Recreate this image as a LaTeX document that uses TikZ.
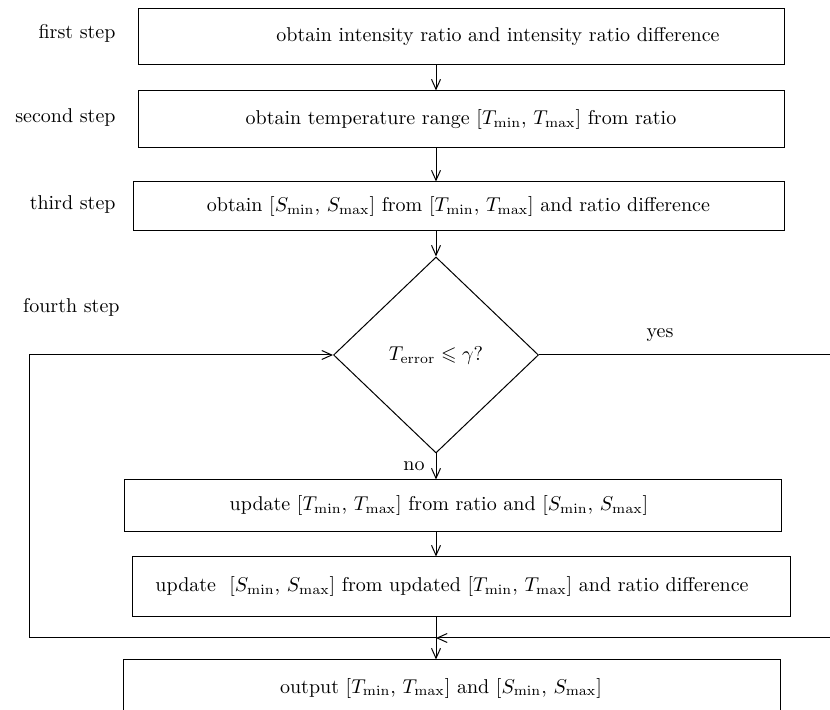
\documentclass[tikz,border=0pt]{standalone}
\usepackage{amssymb}
\usetikzlibrary{shapes.geometric,arrows.meta}
\begin{document}
\begin{tikzpicture}[>={Straight Barb[length=5pt,width=4.5pt]}, x=0.5pt, y=-0.5pt, line width=0.5pt]
\tikzstyle{stepbox}=[draw,rectangle,inner sep=0pt]
\tikzstyle{steplabel}=[anchor=east,inner sep=0pt]
\path[use as bounding box,clip] (0,0) rectangle (830,710);
\node[steplabel](s1) at (116,33) {first step};
\node[steplabel](s2) at (116,118) {second step};
\node[steplabel](s3) at (116,205) {third step};
\node[steplabel](s4) at (120,307) {fourth step};
\node[stepbox,minimum width=323pt,minimum height=28pt](b1) at (461,37) {\hspace*{37pt}\raisebox{-2.5pt}{obtain intensity ratio and intensity ratio difference}};
\node[stepbox,minimum width=323pt,minimum height=28.5pt](b2) at (461,119.5) {obtain temperature range [$T_{\mathrm{min}}$, $T_{\mathrm{max}}$] from ratio};
\node[stepbox,minimum width=325.5pt,minimum height=24.5pt](b3) at (458.5,206.5) {obtain [$S_{\mathrm{min}}$, $S_{\mathrm{max}}$] from [$T_{\mathrm{min}}$, $T_{\mathrm{max}}$] and ratio difference};
\node[diamond,draw,inner sep=0pt,minimum width=102.5pt,minimum height=98pt](d) at (436,355) {$T_{\mathrm{error}}\leqslant\gamma$?};
\node[stepbox,minimum width=328.5pt,minimum height=26pt](b4) at (452.5,506) {update [$T_{\mathrm{min}}$, $T_{\mathrm{max}}$] from ratio and [$S_{\mathrm{min}}$, $S_{\mathrm{max}}$]\hspace*{13.5pt}};
\node[stepbox,minimum width=329pt,minimum height=30pt](b5) at (461,587) {update\ \ [$S_{\mathrm{min}}$, $S_{\mathrm{max}}$] from updated [$T_{\mathrm{min}}$, $T_{\mathrm{max}}$] and ratio difference\hspace*{9pt}};
\node[stepbox,minimum width=328.5pt,minimum height=28pt](b6) at (451.5,688) {output [$T_{\mathrm{min}}$, $T_{\mathrm{max}}$] and [$S_{\mathrm{min}}$, $S_{\mathrm{max}}$]\hspace*{10.5pt}};
\node[inner sep=0pt](yes) at (660,335) {yes};
\node[inner sep=0pt](no) at (414,466) {no};
\coordinate (j) at (436,638);
\coordinate (cl) at (29,638);
\coordinate (cr) at (845,638);
\draw[->] (b1.south -| d) -- (b2.north -| d);
\draw[->] (b2.south -| d) -- (b3.north -| d);
\draw[->] (b3.south -| d) -- (d.north);
\draw[->] (d.south) -- (b4.north -| d);
\draw[->] (b4.south -| d) -- (b5.north -| d);
\draw[->] (b5.south -| j) -- (b6.north -| j);
\draw[->] (j) -- (cl) |- (d.west);
\draw[->] (d.east) -| (cr) -- (j);
\end{tikzpicture}
\end{document}
